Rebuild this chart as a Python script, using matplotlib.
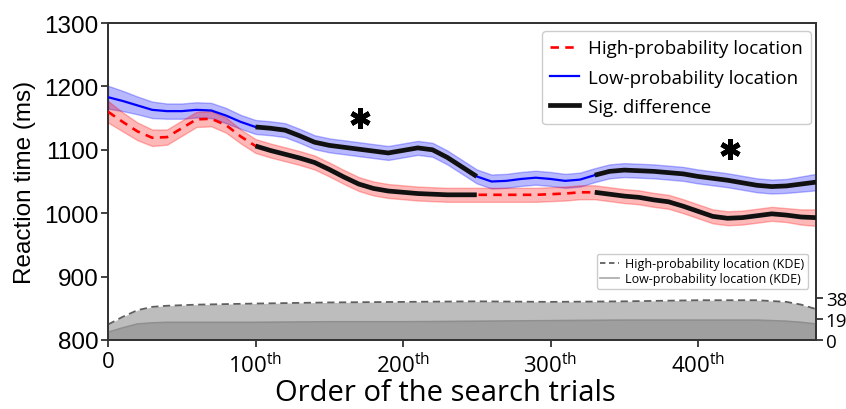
import numpy as np
import matplotlib
matplotlib.use("Agg")
import matplotlib.pyplot as plt
from matplotlib.lines import Line2D

# ---------------- data ----------------
trials = list(range(0, 481, 10))
low_rt = [1183, 1177, 1170, 1163, 1161, 1161, 1163, 1162, 1154, 1144,
          1136, 1134, 1131, 1122, 1112, 1107, 1104, 1101, 1098, 1095,
          1099, 1103, 1100, 1088, 1073, 1058, 1050, 1051, 1054, 1056,
          1054, 1051, 1053, 1060, 1066, 1068, 1067, 1066, 1064, 1062,
          1058, 1055, 1052, 1048, 1044, 1042, 1043, 1046, 1049]
high_rt = [1160, 1144, 1129, 1119, 1120, 1134, 1148, 1149, 1139, 1121,
           1106, 1099, 1093, 1087, 1080, 1069, 1057, 1046, 1039, 1035,
           1033, 1031, 1030, 1029, 1029, 1029, 1029, 1029, 1029, 1029,
           1030, 1031, 1033, 1033, 1030, 1027, 1025, 1021, 1018, 1011,
           1003, 995, 992, 993, 996, 999, 997, 994, 993]
low_err = [18, 16, 14, 13, 12, 12, 12, 12, 12, 11,
           11, 11, 11, 11, 11, 11, 11, 11, 11, 11,
           11, 11, 11, 11, 11, 11, 11, 11, 11, 11,
           11, 11, 11, 11, 11, 11, 11, 11, 11, 11,
           11, 11, 11, 11, 11, 11, 11, 12, 13]
high_err = [17, 15, 14, 13, 12, 12, 12, 12, 12, 11,
            11, 11, 11, 11, 11, 11, 11, 11, 11, 11,
            11, 11, 11, 11, 11, 11, 11, 11, 11, 11,
            11, 11, 11, 11, 11, 11, 11, 11, 11, 11,
            11, 11, 11, 11, 11, 11, 11, 12, 13]
sig_ranges = [(100, 250), (330, 480)]
star_x = [171, 422]
star_y = [1150, 1101]

kde_x = [0, 10, 20, 30, 40, 60, 100, 150, 200, 250, 300, 350, 400, 440, 460, 470, 480]
kde_high = [14, 21, 27, 30, 31, 32, 33, 34, 34.5, 35, 34.5, 35, 36, 36, 34.5, 32, 28]
kde_low = [7, 11, 14.5, 15.5, 16, 16, 16, 16.5, 16.5, 17, 17.5, 18, 18, 18, 17, 16, 14.5]
kde_ticks = [0, 19, 38]

yticks = [800, 900, 1000, 1100, 1200, 1300]
xticks = [0, 100, 200, 300, 400]
xticklabels = ['0', '100th', '200th', '300th', '400th']

legend_main = ['High-probability location', 'Low-probability location', 'Sig. difference']
legend_kde = ['High-probability location (KDE)', 'Low-probability location (KDE)']

# ---------------- style ----------------
plt.rcParams['mathtext.fontset'] = 'custom'
plt.rcParams['mathtext.rm'] = 'Open Sans'
plt.rcParams['mathtext.it'] = 'Open Sans:italic'
plt.rcParams['mathtext.bf'] = 'Open Sans:bold'
SPINE = '#333333'

fig = plt.figure(figsize=(8.46, 4.10), dpi=100)
ax = fig.add_axes([108/846, 1 - 341/410, (816-108)/846, (341-24)/410])

t = np.array(trials, dtype=float)
lo = np.array(low_rt, dtype=float)
hi = np.array(high_rt, dtype=float)
le = np.array(low_err, dtype=float)
he = np.array(high_err, dtype=float)

# twin axis for KDE (drawn behind)
ax2 = ax.twinx()
ax2.fill_between(kde_x, 0, kde_high, color='#bdbdbd', lw=0, zorder=1)
ax2.fill_between(kde_x, 0, kde_low, color='#9f9f9f', lw=0, zorder=2)
ax2.plot(kde_x, kde_high, color='#5f5f5f', lw=1.3, ls=(0, (4, 2.5)), zorder=3)
ax2.plot(kde_x, kde_low, color='#8f8f8f', lw=1.2, zorder=3)
ax2.set_ylim(0, 287)
ax2.set_yticks(kde_ticks)
ax2.set_yticklabels([str(v) for v in kde_ticks], family='Open Sans', fontsize=13.5)
ax2.tick_params(axis='y', length=5, width=1.3, color=SPINE, pad=2)

# put main axis above twin
ax.set_zorder(ax2.get_zorder() + 1)
ax.patch.set_visible(False)

ax.fill_between(t, lo - le, lo + le, color='#0000ff', alpha=0.28, lw=1, edgecolor=(0, 0, 1, 0.35), zorder=2)
ax.fill_between(t, hi - he, hi + he, color='#ff0000', alpha=0.28, lw=1, edgecolor=(1, 0, 0, 0.35), zorder=2)
ax.plot(t, lo, color='#0000ff', lw=1.6, zorder=3)
ax.plot(t, hi, color='#ff0000', lw=1.9, ls=(0, (3.2, 2.4)), zorder=3)

sig = np.zeros_like(t, dtype=bool)
for a, b in sig_ranges:
    sig |= (t >= a) & (t <= b)
ax.plot(t, np.where(sig, lo, np.nan), color='#111111', lw=3.4, zorder=4, solid_capstyle='butt')
ax.plot(t, np.where(sig, hi, np.nan), color='#111111', lw=3.4, zorder=4, solid_capstyle='butt')

ax.plot(star_x, star_y, ls='none', marker=(6, 2, 0), ms=14.5, mew=3.6, color='black', zorder=5)

ax.set_xlim(0, 480)
ax.set_ylim(800, 1300)
ax.set_yticks(yticks)
ax.set_yticklabels([str(v) for v in yticks], family='Liberation Sans', fontsize=17.5)
ax.set_xticks(xticks)
xl = []
for s in xticklabels:
    if s.endswith('th'):
        xl.append(r'$\mathrm{' + s[:-2] + r'^{th}}$')
    else:
        xl.append(r'$\mathrm{' + s + r'}$')
ax.set_xticklabels(xl, fontsize=16)
ax.tick_params(axis='both', length=5, width=1.3, color=SPINE, pad=3)
ax.tick_params(axis='y', pad=2)

for sp in list(ax.spines.values()) + list(ax2.spines.values()):
    sp.set_color(SPINE)
    sp.set_linewidth(1.3)

ax.set_ylabel('Reaction time (ms)', family='Liberation Sans', fontsize=17.5, labelpad=6)
ax.set_xlabel('Order of the search trials', family='Open Sans', fontsize=21)
ax.xaxis.set_label_coords(0.476, -0.12)

h_main = [Line2D([], [], color='#ff0000', lw=1.9, ls=(0, (3.2, 2.4))),
          Line2D([], [], color='#0000ff', lw=1.6),
          Line2D([], [], color='#111111', lw=3.4)]
leg1 = ax.legend(h_main, legend_main, loc='upper right', bbox_to_anchor=(0.993, 0.975),
                 borderaxespad=0, prop={'family': 'Open Sans', 'size': 13.5},
                 handlelength=1.55, handletextpad=0.45, labelspacing=0.6,
                 borderpad=0.45, framealpha=1, edgecolor='#cccccc')
leg1.set_zorder(10)
ax.add_artist(leg1)

h_kde = [Line2D([], [], color='#5f5f5f', lw=1.3, ls=(0, (3, 2))),
         Line2D([], [], color='#b0b0b0', lw=1.3)]
leg2 = ax.legend(h_kde, legend_kde, loc='lower right', bbox_to_anchor=(0.989, 0.161),
                 borderaxespad=0, prop={'family': 'Open Sans', 'size': 9},
                 handlelength=1.5, handletextpad=0.5, labelspacing=0.15,
                 borderpad=0.3, framealpha=1, edgecolor='#cccccc')
leg2.set_zorder(10)

fig.savefig('out.png', dpi=100)
